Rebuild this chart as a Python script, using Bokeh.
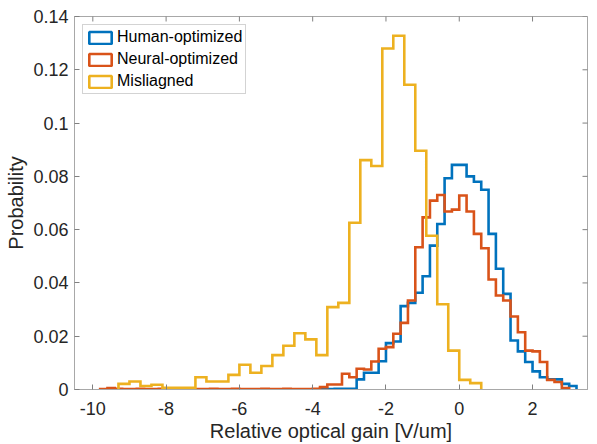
import numpy as np
from bokeh.plotting import figure
from bokeh.models import FixedTicker, Range1d, Legend, LegendItem
from bokeh.embed import file_html
from bokeh.resources import INLINE

# ---------------- data (probability per bin) ----------------
human_start = -3.8
human_width = 0.2
human_prob = [0.0003, 0.0002, 0.0003, 0.0003, 0.0003,
              0.0038, 0.0063, 0.0063, 0.0106, 0.0174, 0.0180, 0.0313, 0.0325,
              0.0363, 0.0425, 0.0540, 0.0621, 0.0793, 0.0843, 0.0843, 0.0800,
              0.0780, 0.0750, 0.0584, 0.0453, 0.0359, 0.0184, 0.0143, 0.0103,
              0.0068, 0.0046, 0.0038, 0.0038, 0.0021, 0.0013]

neural_start = -9.8
neural_width = 0.2
neural_prob = [0.0002, 0.0005, 0.0003, 0.0002, 0.0002, 0.0003, 0.0002, 0.0002,
               0.0003, 0.0002, 0.0002, 0.0003, 0.0002, 0.0002, 0.0002, 0.0003,
               0.0002, 0.0002, 0.0003, 0.0002, 0.0002, 0.0002, 0.0003, 0.0002,
               0.0002, 0.0003, 0.0002, 0.0002, 0.0002,
               0.0003, 0.0009, 0.0019, 0.0019, 0.0059, 0.0046, 0.0078, 0.0075,
               0.0105, 0.0153, 0.0159, 0.0209, 0.0250, 0.0334, 0.0534, 0.0646,
               0.0709, 0.0730, 0.0668, 0.0675, 0.0728, 0.0668, 0.0584, 0.0530,
               0.0413, 0.0353, 0.0334, 0.0274, 0.0215, 0.0146, 0.0143, 0.0103,
               0.0036, 0.0028, 0.0005]

mis_start = -9.3
mis_width = 0.3
mis_prob = [0.0021, 0.0030, 0.0013, 0.0018, 0.0006, 0.0006, 0.0006, 0.0046,
            0.0030, 0.0030, 0.0055, 0.0093, 0.0063, 0.0088, 0.0129, 0.0164,
            0.0211, 0.0188, 0.0129, 0.0309, 0.0325, 0.0626, 0.0861, 0.0839,
            0.1280, 0.1328, 0.1144, 0.0896, 0.0577, 0.0320, 0.0146, 0.0036,
            0.0024]

series_names = ["Human-optimized", "Neural-optimized", "Misliagned"]
series_colors = ["#0072BD", "#D95319", "#EDB120"]

x_ticks = [-10, -8, -6, -4, -2, 0, 2]
x_tick_labels = ["-10", "-8", "-6", "-4", "-2", "0", "2"]
y_ticks = [0, 0.02, 0.04, 0.06, 0.08, 0.1, 0.12, 0.14]
y_tick_labels = ["0", "0.02", "0.04", "0.06", "0.08", "0.1", "0.12", "0.14"]

X_MIN, X_MAX = -10.5, 3.5
Y_MIN, Y_MAX = 0.0, 0.14


def stairs(start, width, probs):
    edges = start + width * np.arange(len(probs) + 1)
    xs = [float(edges[0])]
    ys = [0.0]
    for i, v in enumerate(probs):
        xs += [float(edges[i]), float(edges[i + 1])]
        ys += [v, v]
    xs.append(float(edges[-1]))
    ys.append(0.0)
    return xs, ys


FONT = "Liberation Sans"
AX_COLOR = "#a8a8a8"
TICK_COLOR = "#808080"
TXT_COLOR = "#262626"

p = figure(width=597, height=444, x_range=Range1d(X_MIN, X_MAX),
           y_range=Range1d(Y_MIN, Y_MAX), output_backend="svg",
           toolbar_location=None, min_border_left=74, min_border_right=10,
           min_border_top=16, min_border_bottom=53)
p.xgrid.visible = False
p.ygrid.visible = False
p.background_fill_color = "white"
p.border_fill_color = "white"
p.outline_line_color = AX_COLOR
p.outline_line_width = 1


def style_axis(ax, ticks, labels):
    ax.ticker = FixedTicker(ticks=ticks)
    ax.major_label_overrides = {t: l for t, l in zip(ticks, labels)}
    ax.minor_tick_line_color = None
    ax.major_tick_in = 5
    ax.major_tick_out = 0
    ax.major_tick_line_color = TICK_COLOR
    ax.axis_line_color = AX_COLOR
    ax.major_label_text_font = FONT
    ax.major_label_text_color = TXT_COLOR
    ax.major_label_text_font_size = "18px"
    ax.axis_label_text_font = FONT
    ax.axis_label_text_color = TXT_COLOR
    ax.axis_label_text_font_size = "20px"
    ax.axis_label_text_font_style = "normal"


style_axis(p.xaxis[0], x_ticks, x_tick_labels)
style_axis(p.yaxis[0], y_ticks, y_tick_labels)
p.xaxis[0].axis_label = "Relative optical gain [V/um]"
p.yaxis[0].axis_label = "Probability"
p.xaxis[0].major_label_standoff = 12
p.xaxis[0].axis_label_standoff = 2
p.yaxis[0].major_label_standoff = 6
p.yaxis[0].axis_label_standoff = 3

# box ticks on the top and right edges (half of each dash is clipped by the frame)
p.scatter(x=x_ticks, y=[Y_MAX] * len(x_ticks), marker="dash", angle=np.pi / 2,
          size=10, line_color=TICK_COLOR, line_width=1)
p.scatter(x=[X_MAX] * len(y_ticks), y=y_ticks, marker="dash",
          size=10, line_color=TICK_COLOR, line_width=1)

items = []
for name, color, (st, w, pr) in zip(series_names, series_colors,
                                   [(human_start, human_width, human_prob),
                                    (neural_start, neural_width, neural_prob),
                                    (mis_start, mis_width, mis_prob)]):
    xs, ys = stairs(st, w, pr)
    p.line(xs, ys, line_color=color, line_width=2.6, line_join="miter")
    # legend proxy (not drawn on the axes: NaN extent)
    q = p.quad(left=[np.nan], right=[np.nan], top=[np.nan], bottom=[np.nan],
               fill_alpha=0, line_color=color, line_width=2.6)
    items.append(LegendItem(label=name, renderers=[q]))

legend = Legend(items=items, location="top_left")
legend.margin = 8
legend.padding = 3
legend.spacing = 4
legend.glyph_width = 28
legend.glyph_height = 15
legend.label_height = 16
legend.label_standoff = 3
legend.label_text_font = FONT
legend.label_text_font_size = "16px"
legend.label_text_color = "#000000"
legend.border_line_color = AX_COLOR
legend.border_line_width = 1
legend.background_fill_color = "white"
legend.background_fill_alpha = 1
p.add_layout(legend)

open("out.html", "w").write(file_html(p, INLINE))
